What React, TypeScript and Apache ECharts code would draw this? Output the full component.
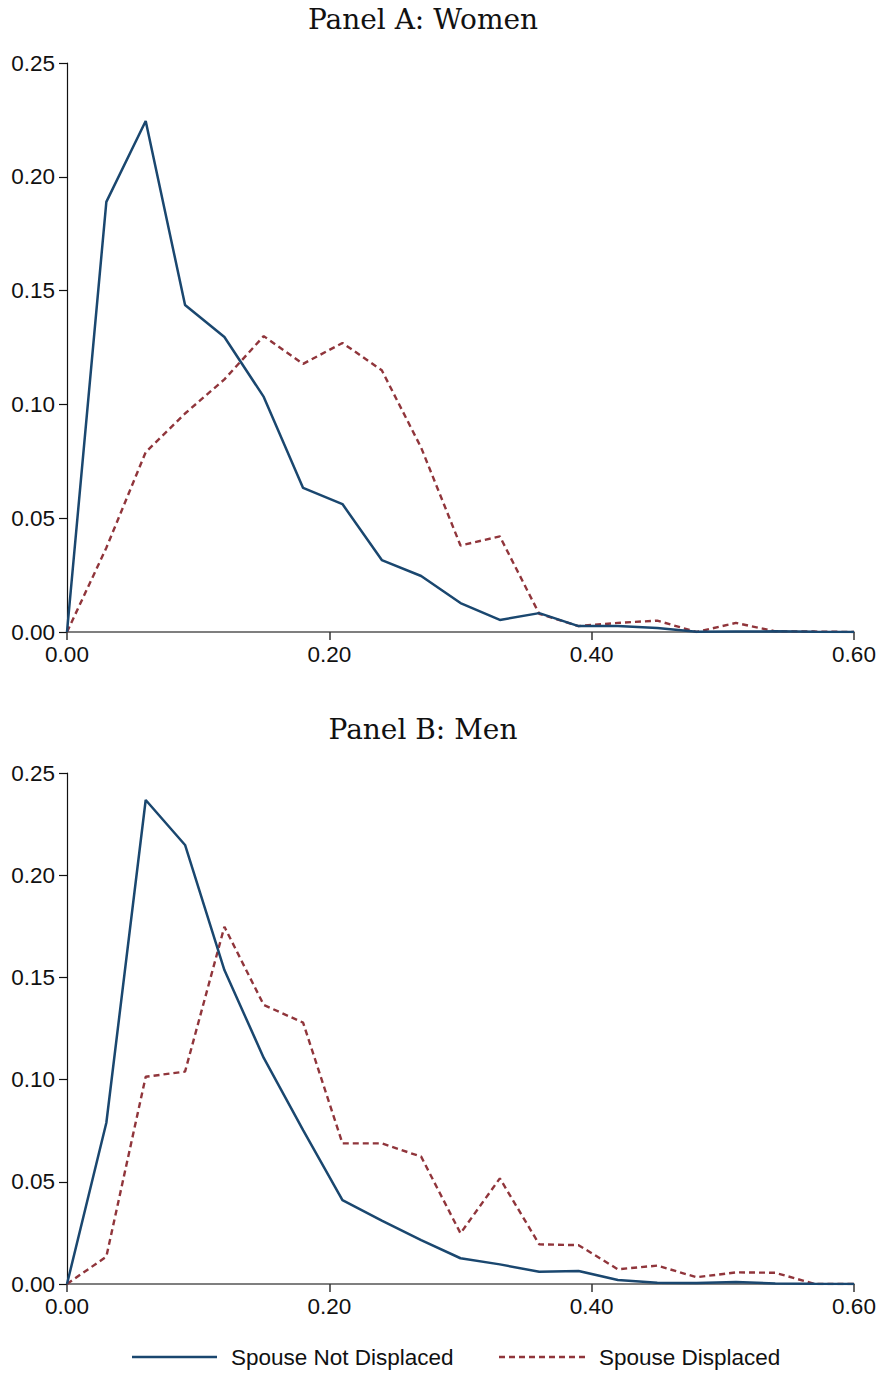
import React, { useEffect, useRef } from "react";
import * as echarts from "echarts";

// Earnings-share bins (x) shared by both panels
const bins = [0, 0.03, 0.06, 0.09, 0.12, 0.15, 0.18, 0.21, 0.24, 0.27, 0.3, 0.33, 0.36, 0.39, 0.42, 0.45, 0.48, 0.51, 0.54, 0.57, 0.6];

// Panel A: Women
const womenNotDisplaced = [0, 0.189, 0.2245, 0.1437, 0.1296, 0.1033, 0.0633, 0.0562, 0.0316, 0.0246, 0.0127, 0.0053, 0.0083, 0.0026, 0.0026, 0.0018, 0.0001, 0.0002, 0.0003, 0.0001, 0];
const womenDisplaced = [0, 0.037, 0.079, 0.096, 0.111, 0.130, 0.1178, 0.127, 0.115, 0.081, 0.038, 0.042, 0.008, 0.0026, 0.004, 0.005, 0, 0.004, 0.0003, 0.0002, 0];

// Panel B: Men
const menNotDisplaced = [0, 0.0789, 0.2368, 0.2148, 0.1536, 0.1106, 0.0753, 0.041, 0.031, 0.0215, 0.0126, 0.0096, 0.006, 0.0064, 0.002, 0.0006, 0.0005, 0.001, 0.0003, 0.0001, 0];
const menDisplaced = [0, 0.0134, 0.1014, 0.1039, 0.1748, 0.1365, 0.1279, 0.0688, 0.0688, 0.0623, 0.0248, 0.0517, 0.0194, 0.019, 0.0072, 0.009, 0.0033, 0.0057, 0.0055, 0, 0];

const panelTitles = ["Panel A: Women", "Panel B: Men"];
const seriesNames = ["Spouse Not Displaced", "Spouse Displaced"];
const yMax = 0.25;

const NAVY = "#1a476f";
const MAROON = "#90353b";
const SANS = "Liberation Sans, Arial, sans-serif";
const SERIF = "DejaVu Serif, serif";
const DASH = [6, 4];

const pairs = (ys: number[]) => bins.map((x, i) => [x, ys[i]]);

export default function App() {
  const ref = useRef<HTMLDivElement>(null);

  useEffect(() => {
    if (!ref.current) return;
    const chart = echarts.init(ref.current, null, { renderer: "svg" });

    const grids = [
      { left: 67, right: 29, top: 63, height: 569 },
      { left: 67, right: 29, top: 773, height: 511 },
    ];

    const xAxis = grids.map((_, gi) => ({
      type: "value",
      gridIndex: gi,
      min: 0,
      max: 0.6,
      interval: 0.2,
      axisLine: { show: true, lineStyle: { color: "#555555", width: 1.5 } },
      axisTick: { show: true, length: 8, lineStyle: { color: "#333333", width: 1.5 } },
      axisLabel: {
        fontFamily: SANS,
        fontSize: 22.5,
        color: "#111111",
        margin: 11,
        formatter: (v: number) => v.toFixed(2),
      },
      splitLine: { show: false },
    }));

    const yAxis = grids.map((_, gi) => ({
      type: "value",
      gridIndex: gi,
      min: 0,
      max: yMax,
      interval: 0.05,
      axisLine: { show: true, lineStyle: { color: "#111111", width: 1.2 } },
      axisTick: { show: true, length: 8, lineStyle: { color: "#111111", width: 1.2 } },
      axisLabel: {
        fontFamily: SANS,
        fontSize: 22.5,
        color: "#111111",
        margin: 12,
        formatter: (v: number) => v.toFixed(2),
      },
      splitLine: { show: false },
    }));

    const panels = [
      [womenNotDisplaced, womenDisplaced],
      [menNotDisplaced, menDisplaced],
    ];

    const series: any[] = [];
    panels.forEach((pair, gi) => {
      series.push({
        name: seriesNames[0],
        type: "line",
        xAxisIndex: gi,
        yAxisIndex: gi,
        data: pairs(pair[0]),
        symbol: "none",
        lineStyle: { color: NAVY, width: 2.5 },
        z: 3,
      });
      series.push({
        name: seriesNames[1],
        type: "line",
        xAxisIndex: gi,
        yAxisIndex: gi,
        data: pairs(pair[1]),
        symbol: "none",
        lineStyle: { color: MAROON, width: 2.4, type: DASH },
        z: 2,
      });
    });

    const titleText = (text: string, y: number) => ({
      type: "text",
      x: 423,
      y,
      style: {
        text,
        fontFamily: SERIF,
        fontSize: 28,
        fill: "#111111",
        textAlign: "center",
        textVerticalAlign: "middle",
      },
    });

    const legendY = 1357;
    const graphic = [
      titleText(panelTitles[0], 19),
      titleText(panelTitles[1], 729),
      {
        type: "line",
        shape: { x1: 132, y1: legendY, x2: 217, y2: legendY },
        style: { stroke: NAVY, lineWidth: 2.5 },
      },
      {
        type: "text",
        x: 231,
        y: legendY,
        style: { text: seriesNames[0], fontFamily: SANS, fontSize: 22.5, fill: "#111111", textVerticalAlign: "middle" },
      },
      {
        type: "line",
        shape: { x1: 499, y1: legendY, x2: 585, y2: legendY },
        style: { stroke: MAROON, lineWidth: 2.4, lineDash: DASH },
      },
      {
        type: "text",
        x: 599,
        y: legendY,
        style: { text: seriesNames[1], fontFamily: SANS, fontSize: 22.5, fill: "#111111", textVerticalAlign: "middle" },
      },
    ];

    chart.setOption({
      animation: false,
      backgroundColor: "#ffffff",
      grid: grids,
      xAxis,
      yAxis,
      series,
      graphic,
    });

    return () => chart.dispose();
  }, []);

  return (
    <div
      ref={ref}
      style={{ position: "absolute", left: 0, top: 0, width: 883, height: 1374, background: "#fff" }}
    />
  );
}
